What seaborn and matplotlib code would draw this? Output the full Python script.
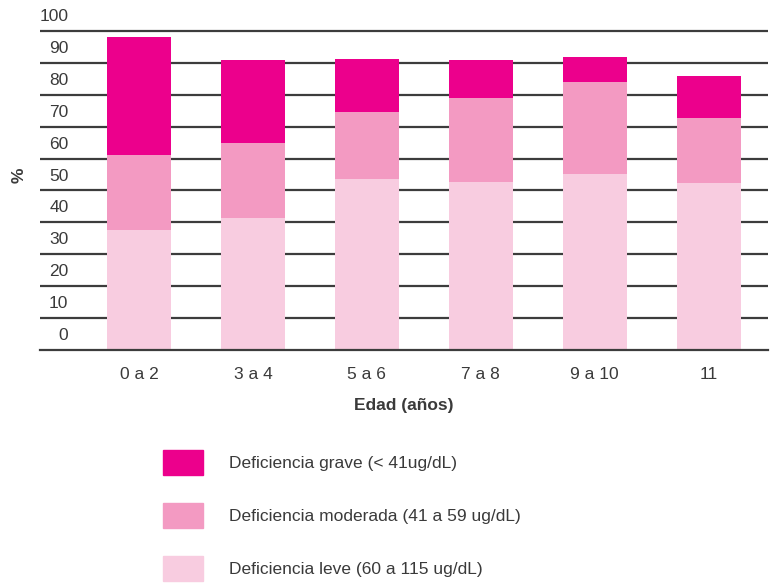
import matplotlib
matplotlib.use("Agg")
import matplotlib.pyplot as plt
import seaborn as sns
import pandas as pd
import numpy as np
from matplotlib.patches import Patch

# === DATA ===
edades = ['0 a 2', '3 a 4', '5 a 6', '7 a 8', '9 a 10', '11']
leve = [37.6, 41.4, 53.6, 52.7, 55.2, 52.4]
moderada = [23.5, 23.5, 21.0, 26.3, 28.8, 20.3]
grave = [37.0, 26.0, 16.6, 11.9, 7.8, 13.2]
series_labels = ['Deficiencia grave (< 41ug/dL)',
                 'Deficiencia moderada (41 a 59 ug/dL)',
                 'Deficiencia leve (60 a 115 ug/dL)']
y_labels = ['0', '10', '20', '30', '40', '50', '60', '70', '80', '90', '100']

# === COLORS ===
C_GRAVE = '#EC008C'
C_MOD = '#F39AC2'
C_LEVE = '#F8CCE0'
TXT = '#3a3a3a'
FS = 12.5

sns.set_style('white')
plt.rcParams['font.family'] = ['Liberation Sans', 'DejaVu Sans']

df = pd.DataFrame({'edad': edades, 'leve': leve, 'moderada': moderada, 'grave': grave})
df['c_mod'] = df['leve'] + df['moderada']
df['c_grave'] = df['c_mod'] + df['grave']

fig = plt.figure(figsize=(7.71, 5.83), dpi=100)
ax = fig.add_axes([40 / 771, 1 - 350 / 583, 728 / 771, 350 / 583])

# stacked bars drawn as cumulative layers
for col, color in [('c_grave', C_GRAVE), ('c_mod', C_MOD), ('leve', C_LEVE)]:
    sns.barplot(data=df, x='edad', y=col, color=color, width=0.56,
                saturation=1, linewidth=0, ax=ax, zorder=3)

ax.set_xlim(-0.868, 5.52)
ax.set_ylim(0, 109.7)

# gridlines at 10..100, labels sit half a step higher
ax.set_yticks(np.arange(10, 101, 10), minor=True)
ax.set_yticks(np.arange(5, 106, 10))
ax.set_yticklabels(y_labels)
ax.grid(False)
ax.grid(True, which='minor', axis='y', color='#3c3c3c', lw=1.6, zorder=1)
ax.tick_params(axis='y', which='both', length=0, pad=-20.5, labelsize=FS, labelcolor=TXT)
for t in ax.get_yticklabels():
    t.set_horizontalalignment('right')

ax.set_xticks(np.arange(-0.5, 6, 1), minor=True)
ax.tick_params(axis='x', which='minor', length=7, width=1.2, color='#3c3c3c', direction='out')
ax.tick_params(axis='x', which='major', length=0, pad=12, labelsize=FS, labelcolor=TXT)

for s in ['top', 'right', 'left']:
    ax.spines[s].set_visible(False)
ax.spines['bottom'].set_color('#3c3c3c')
ax.spines['bottom'].set_linewidth(1.6)
ax.spines['bottom'].set_zorder(4)

ax.set_xlabel('Edad (años)', fontsize=FS, fontweight='bold', color=TXT)
ax.xaxis.set_label_coords(0.5, -0.138)
ax.set_ylabel('%', fontsize=FS, fontweight='bold', color=TXT)
ax.yaxis.set_label_coords(-0.018, 0.5)

handles = [Patch(color=C_GRAVE), Patch(color=C_MOD), Patch(color=C_LEVE)]
fig.legend(handles, series_labels, loc='upper left',
           bbox_to_anchor=(163 / 771, 1 - 450 / 583), frameon=False,
           borderpad=0, borderaxespad=0, fontsize=FS, labelcolor=TXT,
           handlelength=2.3, handleheight=1.85, handletextpad=1.5,
           labelspacing=1.6)

fig.savefig('out.png', dpi=100)
